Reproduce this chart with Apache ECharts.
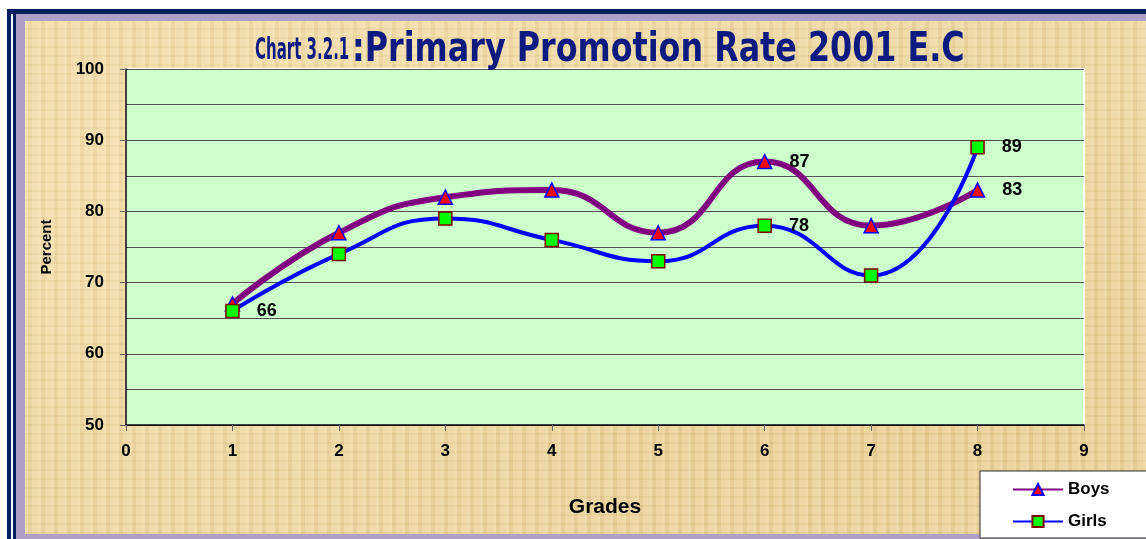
<!DOCTYPE html>
<html>
<head>
<meta charset="utf-8">
<script src="https://cdn.jsdelivr.net/npm/echarts@6/dist/echarts.min.js"></script>
<style>
  html, body { margin: 0; padding: 0; background: #fff; }
  #wrap { position: relative; width: 1146px; height: 539px; overflow: hidden; }
  .band { position: absolute; }
  #parch {
    position: absolute; left: 25px; top: 21px; width: 1121px; height: 513px;
    background-color: #E9D39E;
    background-image:
      repeating-linear-gradient(90deg, rgba(255,240,200,0.25) 0 3px, rgba(200,160,90,0.10) 3px 7px, rgba(255,235,190,0.18) 7px 13px),
      repeating-linear-gradient(0deg, rgba(190,150,80,0.08) 0 2px, rgba(255,240,205,0.15) 2px 9px),
      radial-gradient(ellipse at 20% 30%, rgba(255,235,190,0.5), rgba(0,0,0,0) 60%),
      radial-gradient(ellipse at 80% 70%, rgba(215,180,110,0.35), rgba(0,0,0,0) 60%);
  }
  #chart { position: absolute; left: 0; top: 0; width: 1146px; height: 539px; }
</style>
</head>
<body>
<div id="wrap">
  <!-- frame bands -->
  <div class="band" style="left:7px;top:9px;width:1139px;height:5px;background:#001F5F"></div>
  <div class="band" style="left:7px;top:9px;width:4px;height:530px;background:#001F5F"></div>
  <div class="band" style="left:11px;top:14px;width:2px;height:525px;background:#fff"></div>
  <div class="band" style="left:13px;top:14px;width:3px;height:525px;background:#001F5F"></div>
  <div class="band" style="left:16px;top:14px;width:1130px;height:7px;background:#B0A0C8"></div>
  <div class="band" style="left:16px;top:14px;width:9px;height:525px;background:#B0A0C8"></div>
  <div class="band" style="left:16px;top:534px;width:1130px;height:5px;background:#B0A0C8"></div>
  <div id="parch"></div>
  <div id="chart"></div>
</div>
<script>
// Grades and promotion rates (%)
const grades = [1, 2, 3, 4, 5, 6, 7, 8];
const boys  = [67, 77, 82, 83, 77, 87, 78, 83];
const girls = [66, 74, 79, 76, 73, 78, 71, 89];
// which points carry a value label
const boysLabelled  = [5, 7];
const girlsLabelled = [0, 5, 7];

const titleLead = 'Chart 3.2.1';
const titleMain = ':Primary Promotion Rate 2001 E.C';

const labelStyle = {
  show: true, position: 'right', distance: 17,
  color: '#000', fontFamily: 'Arial, "Liberation Sans", sans-serif',
  fontWeight: 'bold', fontSize: 18, formatter: p => p.value[1]
};

function build(values, labelled) {
  return values.map((v, i) => ({
    value: [grades[i], v],
    label: labelled.includes(i) ? labelStyle : { show: false }
  }));
}

const chart = echarts.init(document.getElementById('chart'), null, { renderer: 'canvas' });
const bold = { fontFamily: 'Arial, "Liberation Sans", sans-serif', fontWeight: 'bold', color: '#000' };
const titleFont = '"DejaVu Sans", sans-serif';

chart.setOption({
  animation: false,
  // condensed title: two runs of text squeezed horizontally
  graphic: [
    {
      type: 'text', x: 255, y: 36, scaleX: 0.5, z: 10,
      style: { text: titleLead, fill: '#0D1A80', font: 'bold 30px ' + titleFont, align: 'left', verticalAlign: 'top' }
    },
    {
      type: 'text', x: 352, y: 31, scaleX: 0.795, z: 10,
      style: { text: titleMain, fill: '#0D1A80', font: 'bold 40px ' + titleFont, align: 'left', verticalAlign: 'top' }
    }
  ],
  legend: {
    left: 980, top: 471, orient: 'vertical',
    backgroundColor: '#fff', borderColor: '#333', borderWidth: 1,
    padding: [10, 40, 8, 32], itemGap: 15, itemWidth: 50, itemHeight: 14,
    textStyle: { ...bold, fontSize: 17 },
    data: ['Boys', 'Girls']
  },
  grid: {
    left: 126, top: 69, right: 62, bottom: 114,
    show: true, backgroundColor: '#CCFFCC', borderColor: '#fff', borderWidth: 2
  },
  xAxis: {
    type: 'value', min: 0, max: 9, interval: 1,
    name: 'Grades', nameLocation: 'middle', nameGap: 72,
    nameTextStyle: { ...bold, fontSize: 21 },
    axisLine: { show: true, lineStyle: { color: '#000', width: 1.5 } },
    axisTick: { show: true, length: 6, lineStyle: { color: '#666' } },
    axisLabel: { ...bold, fontSize: 17, margin: 18 },
    splitLine: { show: false }
  },
  yAxis: {
    type: 'value', min: 50, max: 100, interval: 10,
    name: 'Percent', nameLocation: 'middle', nameGap: 72, nameRotate: 90,
    nameTextStyle: { ...bold, fontSize: 15 },
    axisLine: { show: true, lineStyle: { color: '#000', width: 1.5 } },
    axisTick: { show: true, length: 6, lineStyle: { color: '#666' } },
    axisLabel: { ...bold, fontSize: 17, margin: 22 },
    splitLine: { show: true, lineStyle: { color: '#555', width: 1.2 } },
    minorTick: { show: false, splitNumber: 2 },
    minorSplitLine: { show: true, lineStyle: { color: '#555', width: 1.2 } }
  },
  series: [
    {
      name: 'Boys', type: 'line', smooth: 0.5,
      data: build(boys, boysLabelled),
      lineStyle: { color: '#800080', width: 6 },
      symbol: 'triangle', symbolSize: 14,
      itemStyle: { color: '#FF0000', borderColor: '#0000FF', borderWidth: 1.5 },
      z: 3
    },
    {
      name: 'Girls', type: 'line', smooth: 0.5,
      data: build(girls, girlsLabelled),
      lineStyle: { color: '#0000FF', width: 4 },
      symbol: 'rect', symbolSize: 13,
      itemStyle: { color: '#00FF00', borderColor: '#800000', borderWidth: 1.5 },
      z: 4
    }
  ]
});
</script>
</body>
</html>
